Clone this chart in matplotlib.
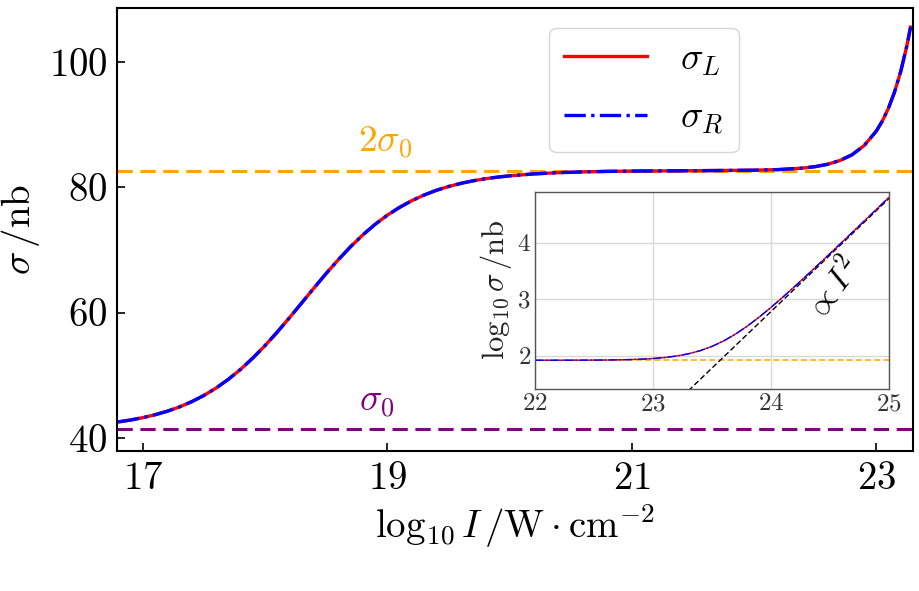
import numpy as np
import matplotlib
matplotlib.use("Agg")
import matplotlib.pyplot as plt

# Fuentes tipo LaTeX (Computer Modern que trae matplotlib)
plt.rcParams['font.family'] = ['cmr10']
plt.rcParams['mathtext.fontset'] = 'cm'
plt.rcParams['axes.unicode_minus'] = False
plt.rcParams['axes.formatter.use_mathtext'] = True

# ────────────────────────────────────────────────
# DATOS
# ────────────────────────────────────────────────
log_I = [16.8, 16.9, 17.0, 17.1, 17.2, 17.3, 17.4, 17.5, 17.6, 17.7,
         17.8, 17.9, 18.0, 18.1, 18.2, 18.3, 18.4, 18.5, 18.6, 18.7,
         18.8, 18.9, 19.0, 19.1, 19.2, 19.3, 19.4, 19.5, 19.6, 19.7,
         19.8, 19.9, 20.0, 20.2, 20.4, 20.6, 20.8, 21.0, 21.5, 22.0,
         22.2, 22.4, 22.5, 22.6, 22.7, 22.8, 22.9, 23.0, 23.05, 23.1,
         23.15, 23.2, 23.25, 23.28]
sigma_L = [42.54, 42.84, 43.22, 43.68, 44.24, 44.93, 45.76, 46.76, 47.94, 49.33,
           50.92, 52.72, 54.71, 56.87, 59.16, 61.52, 63.89, 66.22, 68.43, 70.50,
           72.38, 74.06, 75.52, 76.77, 77.84, 78.74, 79.49, 80.10, 80.60, 81.01,
           81.34, 81.60, 81.81, 82.12, 82.32, 82.44, 82.52, 82.57, 82.63, 82.71,
           82.81, 83.05, 83.28, 83.65, 84.24, 85.16, 86.63, 88.96, 90.59, 92.65,
           95.24, 98.50, 102.60, 105.55]
# sigma_R coincide con sigma_L a la resolución de la figura
sigma_R = [42.54, 42.84, 43.22, 43.68, 44.24, 44.93, 45.76, 46.76, 47.94, 49.33,
           50.92, 52.72, 54.71, 56.87, 59.16, 61.52, 63.89, 66.22, 68.43, 70.50,
           72.38, 74.06, 75.52, 76.77, 77.84, 78.74, 79.49, 80.10, 80.60, 81.01,
           81.34, 81.60, 81.81, 82.12, 82.32, 82.44, 82.52, 82.57, 82.63, 82.71,
           82.81, 83.05, 83.28, 83.65, 84.24, 85.16, 86.63, 88.96, 90.59, 92.65,
           95.24, 98.50, 102.60, 105.55]
sigma0 = 41.33

# Inset: log10 sigma vs log10 I
log_I_in = [22.0, 22.2, 22.4, 22.6, 22.8, 22.9, 23.0, 23.1, 23.2, 23.3,
            23.4, 23.5, 23.6, 23.7, 23.8, 23.9, 24.0, 24.1, 24.2, 24.3,
            24.4, 24.5, 24.6, 24.7, 24.8, 24.9, 25.0]
log_sig_L = [1.9176, 1.9181, 1.9193, 1.9225, 1.9302, 1.9377, 1.9492, 1.9668, 1.9934, 2.0325,
             2.0880, 2.1636, 2.2616, 2.3822, 2.5235, 2.6819, 2.8534, 3.0345, 3.2221, 3.4140,
             3.6089, 3.8057, 4.0036, 4.2023, 4.4015, 4.6009, 4.8006]
log_sig_R = list(log_sig_L)
# asintota ~ I^2
fit_x = [23.3, 25.0]
fit_y = [1.38, 4.78]

x_ticks = [17, 19, 21, 23]
y_ticks = [40, 60, 80, 100]
x_ticks_in = [22, 23, 24, 25]
y_ticks_in = [2, 3, 4]

# ────────────────────────────────────────────────
# FIGURA PRINCIPAL
# ────────────────────────────────────────────────
fig = plt.figure(figsize=(9.2, 5.91), dpi=100)
ax = fig.add_axes([0.1272, 0.2369, 0.8652, 0.7496])

ax.axhline(2 * sigma0, color='orange', ls='--', lw=2.2, dashes=(5, 2.5))
ax.axhline(sigma0, color='purple', ls='--', lw=2.2, dashes=(5, 2.5))
ax.plot(log_I, sigma_L, color='red', lw=2.4, label=r'$\sigma_L$')
ax.plot(log_I, sigma_R, color='blue', lw=2.4, ls='-.', label=r'$\sigma_R$')

ax.text(18.98, 85.6, r'$2\sigma_0$', color='orange', fontsize=27,
        ha='center', va='baseline')
ax.text(18.91, 44.2, r'$\sigma_0$', color='purple', fontsize=27,
        ha='center', va='baseline')

ax.set_xlim(16.79, 23.30)
ax.set_ylim(37.9, 108.6)
ax.set_xticks(x_ticks)
ax.set_yticks(y_ticks)
ax.tick_params(direction='in', length=6, width=1.2, labelsize=28, pad=7,
               top=False, right=False)
for s in ax.spines.values():
    s.set_linewidth(1.5)

ax.set_xlabel(r'$\log_{10} I\,/\mathrm{W}\cdot\mathrm{cm}^{-2}$', fontsize=28, labelpad=4)
ax.set_ylabel(r'$\sigma\,/\mathrm{nb}$', fontsize=28)
ax.yaxis.set_label_coords(-0.094, 0.5)

leg = ax.legend(loc='upper right', bbox_to_anchor=(0.781, 0.955), borderaxespad=0,
                fontsize=27, handlelength=2.2, handletextpad=0.9,
                labelspacing=0.65, fancybox=True, edgecolor='#cccccc')

# ────────────────────────────────────────────────
# INSET
# ────────────────────────────────────────────────
axi = fig.add_axes([0.5815, 0.3418, 0.3848, 0.3338])
axi.grid(True, color='#d8d8d8', lw=1)
axi.set_axisbelow(True)
axi.axhline(np.log10(2 * sigma0), color='orange', ls='--', lw=1.1, dashes=(4, 2))
axi.plot(fit_x, fit_y, color='black', ls='--', lw=1.0, dashes=(4, 2))
axi.plot(log_I_in, log_sig_L, color='red', lw=1.0)
axi.plot(log_I_in, log_sig_R, color='blue', lw=1.0, ls='-.')
axi.text(24.52, 3.18, r'$\propto I^2$', fontsize=24, rotation=53,
         ha='center', va='center')

axi.set_xlim(22, 25)
axi.set_ylim(1.41, 4.90)
axi.set_xticks(x_ticks_in)
axi.set_yticks(y_ticks_in)
axi.tick_params(length=0, labelsize=18, pad=3, labelcolor='#333333')
for s in axi.spines.values():
    s.set_color('#555555')
    s.set_linewidth(1.0)
axi.set_ylabel(r'$\log_{10}\sigma\,/\mathrm{nb}$', fontsize=22, labelpad=2, color='#222222')

fig.savefig('out.png', dpi=100)
